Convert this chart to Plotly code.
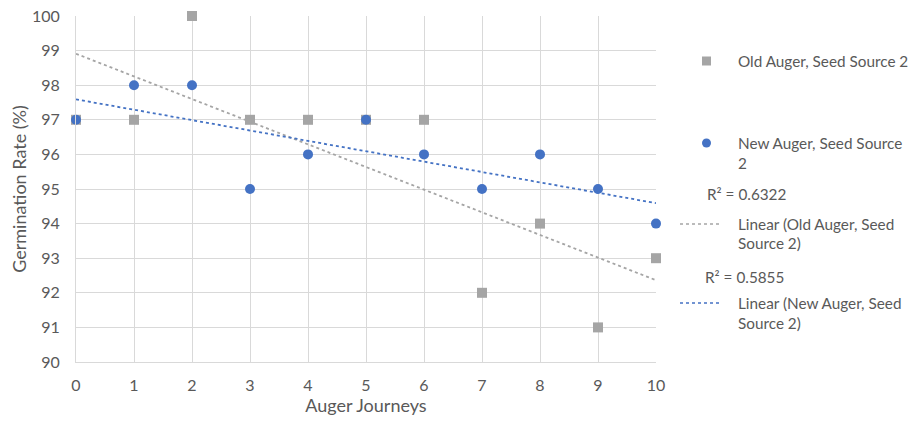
import numpy as np
import plotly.graph_objects as go

# Germination rate by number of auger journeys
journeys = [0, 1, 2, 3, 4, 5, 6, 7, 8, 9, 10]
old_auger = [97, 97, 100, 97, 97, 97, 97, 92, 94, 91, 93]
new_auger = [97, 98, 98, 95, 96, 97, 96, 95, 96, 95, 94]

old_name = "Old Auger, Seed Source 2"
new_name = "New Auger, Seed Source 2"

OLD_COLOR = "#a5a5a5"
NEW_COLOR = "#4472c4"
TEXT_COLOR = "#595959"
GRID_COLOR = "#d9d9d9"
FONT = "Lato"
TICK_SIZE = 16
TITLE_SIZE = 18
LEGEND_SIZE = 15.3

W, H = 915, 421
L, R, T, B = 76, 259, 16, 59
PW, PH = W - L - R, H - T - B


def px_x(px):
    return (px - L) / PW


def px_y(py):
    return (H - B - py) / PH


def linear_fit(x, y):
    x = np.asarray(x, float)
    y = np.asarray(y, float)
    slope, intercept = np.polyfit(x, y, 1)
    pred = slope * x + intercept
    r2 = 1 - np.sum((y - pred) ** 2) / np.sum((y - y.mean()) ** 2)
    return slope, intercept, r2


fig = go.Figure()

x_line = np.array([min(journeys), max(journeys)], float)
fits = {}
for name, ys, color in [(old_name, old_auger, OLD_COLOR), (new_name, new_auger, NEW_COLOR)]:
    slope, intercept, r2 = linear_fit(journeys, ys)
    fits[name] = r2
    fig.add_trace(go.Scatter(
        x=x_line, y=slope * x_line + intercept, mode="lines",
        line=dict(color=color, width=1.8, dash="dot"),
        showlegend=False, hoverinfo="skip", cliponaxis=False,
    ))

fig.add_trace(go.Scatter(
    x=journeys, y=old_auger, mode="markers", name=old_name,
    marker=dict(symbol="square", size=10, color=OLD_COLOR),
    showlegend=False, cliponaxis=False,
))
fig.add_trace(go.Scatter(
    x=journeys, y=new_auger, mode="markers", name=new_name,
    marker=dict(symbol="circle", size=10, color=NEW_COLOR),
    showlegend=False, cliponaxis=False,
))

# Legend built by hand so the R² labels sit between the entries
shapes = [
    dict(type="rect", xref="paper", yref="paper",
         x0=px_x(702), x1=px_x(711), y0=px_y(65.5), y1=px_y(56.5),
         fillcolor=OLD_COLOR, line=dict(width=0)),
    dict(type="circle", xref="paper", yref="paper",
         x0=px_x(702), x1=px_x(711), y0=px_y(147.5), y1=px_y(138.5),
         fillcolor=NEW_COLOR, line=dict(width=0)),
    dict(type="line", xref="paper", yref="paper",
         x0=px_x(680), x1=px_x(722), y0=px_y(224), y1=px_y(224),
         line=dict(color=OLD_COLOR, width=1.5, dash="dot")),
    dict(type="line", xref="paper", yref="paper",
         x0=px_x(680), x1=px_x(722), y0=px_y(303), y1=px_y(303),
         line=dict(color=NEW_COLOR, width=1.5, dash="dot")),
]

legend_lines = [
    (736, 61, "Old Auger, Seed Source 2"),
    (736, 143, "New Auger, Seed Source"),
    (736, 163, "2"),
    (705, 194, f"R² = {fits[old_name]:.4f}"),
    (736, 224, "Linear (Old Auger, Seed"),
    (736, 243, "Source 2)"),
    (703, 277, f"R² = {fits[new_name]:.4f}"),
    (736, 303, "Linear (New Auger, Seed"),
    (736, 323, "Source 2)"),
]
annotations = [
    dict(x=px_x(px), y=px_y(py), xref="paper", yref="paper", text=txt,
         showarrow=False, xanchor="left", yanchor="middle",
         font=dict(family=FONT, size=LEGEND_SIZE, color=TEXT_COLOR))
    for px, py, txt in legend_lines
]

fig.update_layout(
    width=W, height=H,
    margin=dict(l=L, r=R, t=T, b=B, pad=0, autoexpand=False),
    paper_bgcolor="white", plot_bgcolor="white",
    font=dict(family=FONT, size=TICK_SIZE, color=TEXT_COLOR),
    shapes=shapes, annotations=annotations,
    showlegend=False,
    xaxis=dict(
        range=[0, 10], dtick=1, tick0=0, automargin=False,
        showgrid=True, gridcolor=GRID_COLOR, gridwidth=1,
        zeroline=False, showline=True, linecolor=GRID_COLOR, mirror=False,
        ticks="", ticklabelstandoff=9,
        tickfont=dict(family=FONT, size=TICK_SIZE, color=TEXT_COLOR),
        title=dict(text="Auger Journeys", standoff=4,
                   font=dict(family=FONT, size=TITLE_SIZE, color=TEXT_COLOR)),
    ),
    yaxis=dict(
        range=[90, 100], dtick=1, tick0=90, automargin=False,
        showgrid=True, gridcolor=GRID_COLOR, gridwidth=1,
        zeroline=False, showline=True, linecolor=GRID_COLOR,
        ticks="", ticklabelstandoff=12,
        tickfont=dict(family=FONT, size=TICK_SIZE, color=TEXT_COLOR),
        title=dict(text="Germination Rate (%)", standoff=0,
                   font=dict(family=FONT, size=TITLE_SIZE, color=TEXT_COLOR)),
    ),
)

fig.write_html("out.html")
